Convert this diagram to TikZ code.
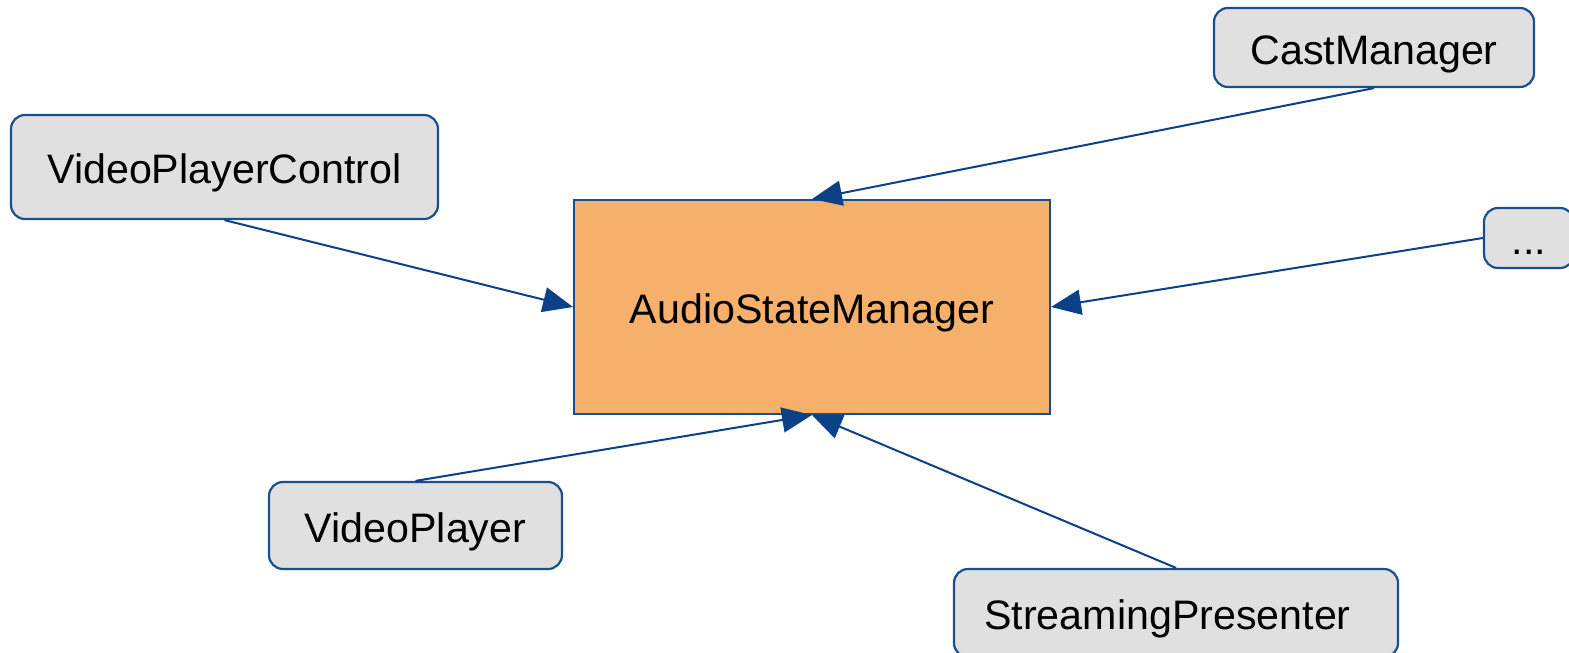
\documentclass[tikz,border=0pt]{standalone}
\usepackage{fontspec}
\setmainfont{Liberation Sans}
\usetikzlibrary{arrows.meta}
\definecolor{edgeblue}{HTML}{1A4F8E}
\definecolor{arrowblue}{HTML}{0A4187}
\definecolor{boxgray}{HTML}{E0E0E0}
\definecolor{coreorange}{HTML}{F5B16C}
\tikzset{
  client/.style={draw=edgeblue, line width=1.1pt, fill=boxgray, rounded corners=7pt,
    inner sep=0pt, text height=16.75pt, text depth=0pt,
    font=\fontsize{20.6}{24}\selectfont},
  core/.style={draw=edgeblue, line width=1pt, fill=coreorange,
    inner sep=0pt, text height=16.75pt, text depth=0pt,
    font=\fontsize{20.6}{24}\selectfont},
  uses/.style={draw=arrowblue, line width=1pt,
    -{Triangle[length=15pt, width=12.5pt]}},
}
\begin{document}
\begin{tikzpicture}[x=0.5pt, y=-0.5pt]
  \useasboundingbox (0,0) rectangle (1569,653);
  \clip (0,0) rectangle (1569,653);

  % central manager
  \node[core, minimum width=238pt, minimum height=107pt] (asm) at (812,307) {AudioStateManager};

  % components that talk to it
  \node[client, minimum width=160pt, minimum height=39.5pt] (cast) at (1374,47.5) {CastManager};
  \node[client, minimum width=213.5pt, minimum height=52pt] (vpc) at (224.5,167) {VideoPlayerControl};
  \node[client, minimum width=45pt, minimum height=30pt] (more) at (1529,238) {...};
  \node[client, minimum width=146.5pt, minimum height=43.5pt] (vp) at (415.5,525.5) {VideoPlayer};
  \node[client, minimum width=222pt, minimum height=44pt] (sp) at (1176,613) {\kern-8.5pt StreamingPresenter};

  % dependencies
  \draw[uses] (cast.south) -- (asm.north);
  \draw[uses] (vpc.south) -- (asm.west);
  \draw[uses] (more.west) -- (asm.east);
  \draw[uses] (vp.north) -- (asm.south);
  \draw[uses] (sp.north) -- (asm.south);
\end{tikzpicture}
\end{document}
